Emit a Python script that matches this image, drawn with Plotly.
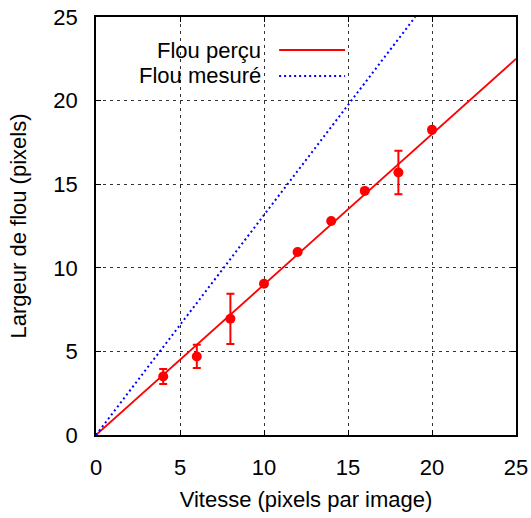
import plotly.graph_objects as go

vitesse = [4, 6, 8, 10, 12, 14, 16, 18, 20]
flou_percu = [3.5, 4.7, 6.95, 9.05, 10.95, 12.8, 14.6, 15.7, 18.25]
erreur = [0.45, 0.7, 1.5, 0, 0, 0, 0, 1.3, 0]

fit_x = [0, 25]
fit_percu = [0, 22.5]
mesure_x = [0, 19.0]
mesure_y = [0, 25]

ticks = [0, 5, 10, 15, 20, 25]

fig = go.Figure()
fig.add_trace(go.Scatter(x=fit_x, y=fit_percu, mode="lines",
                         line=dict(color="#ff0000", width=1.8), showlegend=False))
fig.add_trace(go.Scatter(x=mesure_x, y=mesure_y, mode="lines",
                         line=dict(color="#0000ff", width=2, dash="2px,3px"), showlegend=False))
fig.add_trace(go.Scatter(x=vitesse, y=flou_percu, mode="markers",
                         marker=dict(color="#ff0000", size=10),
                         error_y=dict(type="data", array=erreur, visible=True,
                                      color="#ff0000", thickness=2, width=4),
                         showlegend=False))

font = dict(family="Liberation Sans, Arial, sans-serif", size=22, color="#000")

def make_axis(title, standoff):
    return dict(range=[0, 25], tickvals=ticks, showline=True, linecolor="#000", linewidth=1.5,
                mirror="ticks", ticks="inside", ticklen=5, tickcolor="#000",
                showgrid=True, gridcolor="#333", gridwidth=1, griddash="3px,4px",
                zeroline=False, tickfont=font, automargin=False,
                ticklabelstandoff=12, ticklabeloverflow="allow",
                title=dict(text=title, font=font, standoff=standoff))

fig.update_layout(
    width=531, height=518,
    margin=dict(l=96, r=15, t=17, b=83),
    plot_bgcolor="white", paper_bgcolor="white",
    xaxis=make_axis("Vitesse (pixels par image)", 12),
    yaxis=make_axis("Largeur de flou (pixels)", 21),
    font=font,
)

leg = [("Flou perçu", "#ff0000", "solid", 0.921), ("Flou mesuré", "#0000ff", "2px,3px", 0.859)]
for txt, col, dash, yy in leg:
    fig.add_annotation(x=0.398, y=yy, xref="paper", yref="paper", text=txt,
                       showarrow=False, xanchor="right", yanchor="middle", font=font)
    fig.add_shape(type="line", xref="paper", yref="paper", x0=0.436, x1=0.593, y0=yy, y1=yy,
                  line=dict(color=col, width=2, dash=dash))

fig.write_html("out.html", config={"displayModeBar": False},
               post_script="document.body.style.margin='0';")
